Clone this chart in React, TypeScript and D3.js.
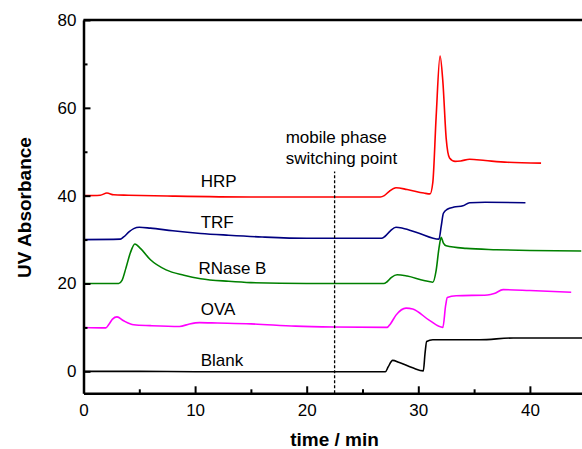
import * as d3 from "d3";
import { useRef, useEffect } from "react";

// time (min), absorbance pairs
const hrp: [number, number][] = [[0,40],[1.5,40.1],[2.1,40.6],[2.7,40.2],[4,40.1],[8,39.9],[15,39.7],[22,39.7],[26.6,39.7],[26.95,40],[27.4,41],[28,41.8],[29,41.4],[30.5,40.6],[31.05,40.4],[31.3,43],[31.6,58],[31.95,71.8],[32.2,66],[32.5,53],[32.8,48.6],[33.3,47.8],[33.8,47.9],[34.6,48.3],[36,48],[38,47.6],[41,47.4]];
const trf: [number, number][] = [[0,30],[3.3,30.1],[3.6,30.6],[4.1,31.8],[4.5,32.5],[5,32.8],[6,32.6],[8,32],[10.5,31.4],[13,31],[16,30.6],[20,30.3],[26.7,30.3],[27,30.7],[27.5,32],[28,32.8],[28.6,32.6],[30,31.5],[31.85,30.1],[32.05,33],[32.25,36],[32.6,36.9],[33.2,37.4],[34,37.7],[34.6,38.4],[36,38.5],[39.6,38.4]];
const rnaseB: [number, number][] = [[0,20],[3.15,20],[3.45,20.7],[3.8,23.5],[4.2,27],[4.6,29],[5.1,28],[6,25.4],[7.4,23.1],[9,21.9],[10.5,21.1],[13,20.5],[15,20.2],[20,20],[26.9,20],[27.2,20.4],[27.6,21.4],[28.1,22],[29,21.7],[30.5,20.7],[31.3,20.3],[31.6,23],[31.85,28],[32.05,30.5],[32.25,29.2],[32.5,28.6],[34.3,28],[37,27.7],[40,27.5],[44.6,27.4]];
const ova: [number, number][] = [[0,10],[2.0,9.9],[2.25,10.6],[2.6,11.9],[3,12.4],[3.6,11.5],[4.5,10.6],[6,10.4],[8.6,10.2],[9.5,10.8],[10.4,11.1],[12,11],[15,10.8],[19,10.3],[22.4,10.1],[27.2,10],[27.5,10.8],[28,12.8],[28.9,14.4],[29.5,14.2],[31,11.6],[32.2,10],[32.45,15],[32.6,16.8],[33.4,17.2],[36.2,17.4],[36.8,17.7],[37.6,18.6],[40,18.4],[43.7,18]];
const blank: [number, number][] = [[0,0],[5,0],[10,-0.1],[20,-0.1],[27.05,-0.1],[27.3,1],[27.7,2.5],[28.3,2],[29.5,0.8],[30.45,0.1],[30.6,4],[30.75,6.8],[31.3,7.2],[35.5,7.2],[38.5,7.6],[45,7.6]];

const seriesNames = ["HRP", "TRF", "RNase B", "OVA", "Blank"];
const seriesColors = ["#ff0000", "#000080", "#008000", "#ff00ff", "#000000"];
const seriesData = [hrp, trf, rnaseB, ova, blank];
// label anchor: [time, absorbance]
const labelPos: [number, number][] = [[10.5, 41.9], [10.5, 32.6], [10.3, 22.2], [10.5, 12.8], [10.5, 1.3]];

const xMajor = [0, 10, 20, 30, 40];
const xMinor = [5, 15, 25, 35, 45];
const yMajor = [0, 20, 40, 60, 80];
const yMinor = [10, 30, 50, 70];
const switchTime = 22.5;

const font = "Arial, 'Liberation Sans', sans-serif";

export default function App() {
  const width = 582;
  const height = 449;
  const x = d3.scaleLinear().domain([0, 45]).range([83.5, 585.7]);
  const y = d3.scaleLinear().domain([-5, 80]).range([393.3, 20]);
  const line = d3.line<[number, number]>().x(d => x(d[0])).y(d => y(d[1])).curve(d3.curveMonotoneX);

  const gx = useRef<SVGGElement>(null);
  const gxm = useRef<SVGGElement>(null);
  const gy = useRef<SVGGElement>(null);
  const gym = useRef<SVGGElement>(null);

  useEffect(() => {
    const ax = d3.select(gx.current!).call(
      d3.axisBottom(x).tickValues(xMajor).tickSize(-7).tickSizeOuter(0).tickPadding(11)
    );
    ax.select(".domain").attr("stroke-width", 2.5);
    ax.selectAll(".tick line").attr("stroke-width", 2);
    ax.selectAll("text").attr("font-size", 17).attr("font-family", font).attr("fill", "#000");

    const axm = d3.select(gxm.current!).call(
      d3.axisBottom(x).tickValues(xMinor).tickSize(-4).tickFormat(() => "")
    );
    axm.select(".domain").remove();
    axm.selectAll(".tick line").attr("stroke-width", 2);

    const ay = d3.select(gy.current!).call(
      d3.axisLeft(y).tickValues(yMajor).tickSize(-7).tickSizeOuter(0).tickPadding(7)
    );
    ay.select(".domain").attr("stroke-width", 2.5);
    ay.selectAll(".tick line").attr("stroke-width", 2);
    ay.selectAll("text").attr("font-size", 17).attr("font-family", font).attr("fill", "#000");

    const aym = d3.select(gym.current!).call(
      d3.axisLeft(y).tickValues(yMinor).tickSize(-4).tickFormat(() => "")
    );
    aym.select(".domain").remove();
    aym.selectAll(".tick line").attr("stroke-width", 2);
  }, []);

  return (
    <div style={{ position: "absolute", left: 0, top: 0 }}>
      <svg width={width} height={height} style={{ display: "block" }}>
        <rect width={width} height={height} fill="#fff" />
        {seriesData.map((d, i) => (
          <path key={i} d={line(d) ?? ""} fill="none" stroke={seriesColors[i]} strokeWidth={1.6} />
        ))}
        <line x1={x(switchTime)} x2={x(switchTime)} y1={y(-5)} y2={y(45.5)} stroke="#000" strokeWidth={1.3} strokeDasharray="3,2" />
        <line x1={x(0)} x2={width} y1={y(80)} y2={y(80)} stroke="#000" strokeWidth={2.5} />
        <g ref={gx} transform={`translate(0,${y(-5)})`} />
        <g ref={gxm} transform={`translate(0,${y(-5)})`} />
        <g ref={gy} transform={`translate(${x(0)},0)`} />
        <g ref={gym} transform={`translate(${x(0)},0)`} />
        <g fontFamily={font} fontSize={17} fill="#000">
          {seriesNames.map((n, i) => (
            <text key={n} x={x(labelPos[i][0])} y={y(labelPos[i][1])}>{n}</text>
          ))}
          <text x={285.7} y={142.7}>mobile phase</text>
          <text x={285.7} y={163.5}>switching point</text>
        </g>
        <text x={334.5} y={446} textAnchor="middle" fontFamily={font} fontSize={19} fontWeight="bold">time / min</text>
        <text transform={`translate(31,207.5) rotate(-90)`} textAnchor="middle" fontFamily={font} fontSize={19} fontWeight="bold">UV Absorbance</text>
      </svg>
    </div>
  );
}
